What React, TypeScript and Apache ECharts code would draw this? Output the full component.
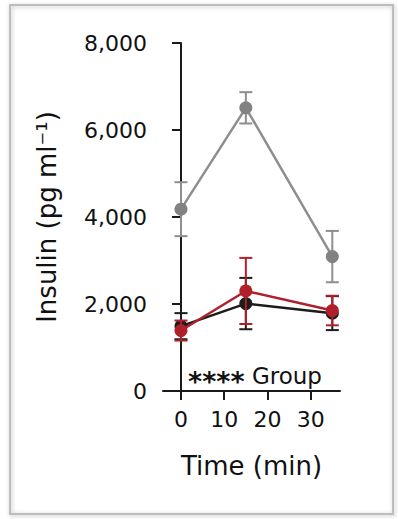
import React, { useEffect, useRef } from "react";
import * as echarts from "echarts";

const times = [0, 15, 35];
const xTickValues = [0, 10, 20, 30];
const yTickInterval = 2000;
const yMax = 8000;

const greyMean = [4180, 6510, 3090];
const greyErr = [620, 360, 590];
const blackMean = [1490, 2010, 1790];
const blackErr = [300, 590, 390];
const redMean = [1390, 2300, 1850];
const redErr = [230, 760, 340];

const yTitle = "Insulin (pg ml⁻¹)";
const xTitle = "Time (min)";
const annotationStars = "****";
const annotationText = "Group";

const FONT = "DejaVu Sans";

function errData(mean: number[], err: number[]) {
  return times.map((t, i) => [t, mean[i] - err[i], mean[i] + err[i]]);
}
function lineData(mean: number[]) {
  return times.map((t, i) => [t, mean[i]]);
}

function errSeries(mean: number[], err: number[], color: string, z: number) {
  return {
    type: "custom",
    z,
    data: errData(mean, err),
    renderItem: (params: any, api: any) => {
      const x = api.value(0);
      const lo = api.value(1);
      const hi = api.value(2);
      const top = api.coord([x, hi]);
      const bot = api.coord([x, lo]);
      const hw = 6.5;
      const style = { stroke: color, lineWidth: 2 };
      return {
        type: "group",
        children: [
          { type: "line", shape: { x1: top[0], y1: top[1], x2: bot[0], y2: bot[1] }, style },
          { type: "line", shape: { x1: top[0] - hw, y1: top[1], x2: top[0] + hw, y2: top[1] }, style },
          { type: "line", shape: { x1: bot[0] - hw, y1: bot[1], x2: bot[0] + hw, y2: bot[1] }, style },
        ],
      };
    },
  };
}

function lineSeries(mean: number[], color: string, markerColor: string, z: number) {
  return {
    type: "line",
    z,
    data: lineData(mean),
    symbol: "circle",
    symbolSize: 13,
    lineStyle: { color, width: 2.5 },
    itemStyle: { color: markerColor },
  };
}

export default function App() {
  const ref = useRef<HTMLDivElement>(null);
  useEffect(() => {
    if (!ref.current) return;
    const chart = echarts.init(ref.current, null, { renderer: "svg" });
    const axisColor = "#1a1a1a";
    chart.setOption({
      animation: false,
      backgroundColor: "#ffffff",
      grid: { left: 163, right: 58, top: 43, bottom: 128 },
      xAxis: {
        type: "value",
        min: -4.16,
        max: 36.78,
        name: xTitle,
        nameLocation: "middle",
        nameGap: 62,
        nameTextStyle: { fontFamily: FONT, fontSize: 26, color: "#111" },
        axisLine: { show: true, lineStyle: { color: axisColor, width: 2 } },
        axisTick: { show: true, length: 9, lineStyle: { color: axisColor, width: 2 }, customValues: xTickValues },
        axisLabel: { fontFamily: FONT, fontSize: 22, color: "#111", margin: 17, customValues: xTickValues },
        splitLine: { show: false },
      },
      yAxis: {
        type: "value",
        min: 0,
        max: yMax,
        interval: yTickInterval,
        offset: -9,
        name: yTitle,
        nameLocation: "middle",
        nameRotate: 90,
        nameGap: 112,
        nameTextStyle: { fontFamily: FONT, fontSize: 26, color: "#111" },
        axisLine: { show: true, lineStyle: { color: axisColor, width: 2 } },
        axisTick: { show: true, length: 9, lineStyle: { color: axisColor, width: 2 } },
        axisLabel: {
          fontFamily: FONT,
          fontSize: 22,
          color: "#111",
          margin: 25,
          formatter: (v: number) => v.toLocaleString("en-US"),
        },
        splitLine: { show: false },
      },
      series: [
        errSeries(greyMean, greyErr, "#8e8e8e", 2),
        lineSeries(greyMean, "#8e8e8e", "#828282", 3),
        errSeries(blackMean, blackErr, "#1c1c1c", 4),
        lineSeries(blackMean, "#1c1c1c", "#1c1c1c", 5),
        errSeries(redMean, redErr, "#b0202a", 6),
        lineSeries(redMean, "#b0202a", "#b0202a", 7),
      ],
      graphic: [
        {
          type: "rect",
          shape: { x: 10, y: 5, width: 383, height: 509 },
          style: {
            fill: "none",
            stroke: "#bdbdbd",
            lineWidth: 2,
            shadowBlur: 4,
            shadowColor: "rgba(0,0,0,0.25)",
            shadowOffsetX: 1,
            shadowOffsetY: 1,
          },
          z: 0,
        },
        {
          type: "text",
          x: 255,
          y: 376,
          style: {
            text: "{s|" + annotationStars + "} {g|" + annotationText + "}",
            rich: {
              s: { fontFamily: FONT, fontSize: 27, fontWeight: "bold", fill: "#111", padding: [10, 0, 0, 0] },
              g: { fontFamily: FONT, fontSize: 23, fill: "#111" },
            },
            fontFamily: FONT,
            fontSize: 23,
            fill: "#111",
            align: "center",
            verticalAlign: "middle",
          },
          z: 10,
        },
      ],
    });
    return () => chart.dispose();
  }, []);
  return (
    <div
      ref={ref}
      style={{ position: "absolute", left: 0, top: 0, width: 398, height: 519 }}
    />
  );
}
